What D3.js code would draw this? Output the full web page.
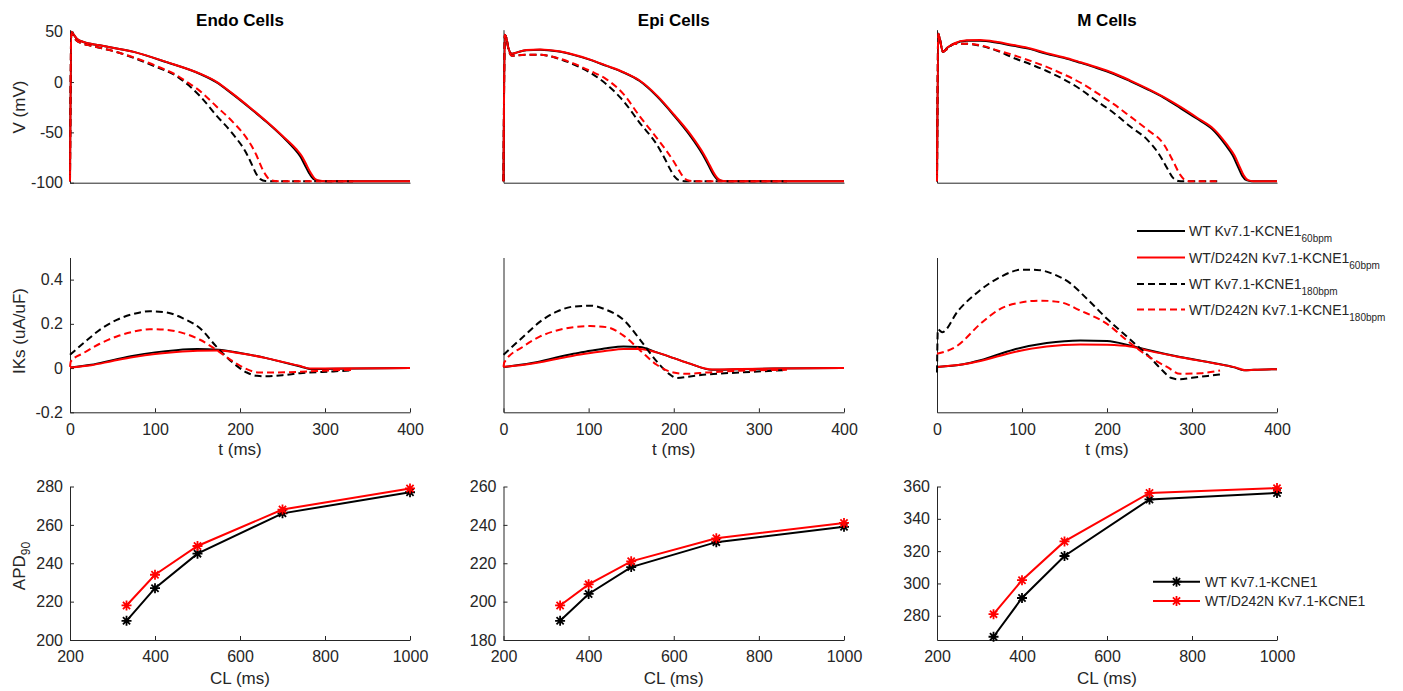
<!DOCTYPE html>
<html><head><meta charset="utf-8">
<script src="https://cdn.jsdelivr.net/npm/d3@7"></script>
<style>
body{margin:0;background:#fff;}
svg{display:block;font-family:"Liberation Sans",Arial,Helvetica,sans-serif;}
</style></head><body>
<svg id="chart" width="1403" height="691"></svg>
<script>
// ---------------- DATA ----------------
const panelTitles = ["Endo Cells", "Epi Cells", "M Cells"];
const vTicks = [-100, -50, 0, 50];
const iTicks = [-0.2, 0, 0.2, 0.4];
const tTicks = [0, 100, 200, 300, 400];
const clTicks = [200, 400, 600, 800, 1000];
const apdTicksEndo = [200, 220, 240, 260, 280];
const apdTicksEpi = [180, 200, 220, 240, 260];
const apdTicksM = [280, 300, 320, 340, 360];
const apdDomainEndo = [200, 280];
const apdDomainEpi = [180, 260];
const apdDomainM = [265, 360];
const vDomain = [-100, 52];
const iDomain = [-0.2, 0.5];
const tDomain = [0, 400];
const clDomain = [200, 1000];

const seriesLabels = ["WT Kv7.1-KCNE1", "WT/D242N Kv7.1-KCNE1", "WT Kv7.1-KCNE1", "WT/D242N Kv7.1-KCNE1"];
const seriesRates = ["60bpm", "60bpm", "180bpm", "180bpm"];
const apdLabels = ["WT Kv7.1-KCNE1", "WT/D242N Kv7.1-KCNE1"];

// Action potentials [t (ms), V (mV)]
const vEndoWT60 = [[0,-98.5],[1.5,50],[4,47.5],[8,43],[15,40],[35,36.5],[75,30],[114,19.6],[153,8],[172,0],[192,-12.5],[212,-26],[231,-39.5],[251,-55],[264,-66.5],[271,-74],[276,-82],[281,-90],[286,-96],[292,-98],[305,-98.5],[400,-98.5]];
const vEndoMut60 = [[0,-98.5],[1.5,50],[4,47.5],[8,43],[15,40],[35,36.5],[75,30],[114,19.8],[153,8.3],[172,0.5],[192,-12],[212,-25.5],[231,-39],[252,-55],[266,-66.5],[273,-74],[278,-82],[283,-90],[288,-96],[294,-98],[307,-98.5],[400,-98.5]];
const vEndoWT180 = [[0,-98.5],[1.5,48],[4,45],[8,41],[14,38.5],[25,36],[50,31],[75,24],[100,15.5],[125,6],[140,-3.5],[153,-14],[172,-33],[192,-52],[207,-70],[214,-82],[219,-91],[224,-96.5],[230,-98.3],[240,-98.5],[333,-98.5]];
const vEndoMut180 = [[0,-98.5],[1.5,48],[4,45],[8,41],[14,38.5],[25,36],[50,31],[75,24.5],[100,16.5],[125,7],[137,0.5],[153,-9],[172,-24],[192,-40],[208,-56],[219,-72],[225,-84],[230,-92],[235,-97],[241,-98.3],[250,-98.5],[333,-98.5]];

const vEpiWT60 = [[0,-98.5],[1.5,47],[3,45],[6,33],[10,28],[16,29.5],[27,31.5],[43,32],[63,30.5],[82,27],[102,22],[121,16],[141,9.5],[160,1],[180,-14],[200,-33],[219,-53],[234,-72],[241,-83],[246,-91],[251,-96.5],[257,-98.3],[265,-98.5],[400,-98.5]];
const vEpiMut60 = [[0,-98.5],[1.5,47],[3,45],[6,33],[10,28],[16,29.5],[27,31.8],[43,32.3],[63,30.8],[82,27.3],[102,22.3],[121,16.3],[141,9.8],[160,1.5],[181,-14],[201,-33],[220.5,-53],[235.5,-72],[242.5,-83],[247.5,-91],[252.5,-96.5],[258.5,-98.3],[267,-98.5],[400,-98.5]];
const vEpiWT180 = [[0,-98.5],[1.5,47],[3,45],[6,32],[10,26],[16,26.5],[27,27],[43,27],[63,23.7],[82,17.7],[102,9.3],[121,-2.3],[141,-19],[160,-40.5],[180,-62],[190,-77],[196,-87],[201,-94],[206,-97.5],[213,-98.5],[333,-98.5]];
const vEpiMut180 = [[0,-98.5],[1.5,47],[3,45],[6,32],[10,26],[16,26.5],[27,27],[43,27],[63,24],[82,18.5],[102,11],[121,2.7],[141,-12],[160,-34],[180,-55.5],[200,-79],[206,-87.5],[211,-94],[216,-97.5],[223,-98.5],[333,-98.5]];

const vMWT60 = [[0,-98.5],[1.5,48],[3,44],[7,30],[12,34],[20,38],[35,41],[51,41],[71,39],[90,36],[110,32.7],[129,28],[149,24],[169,19],[188,14],[208,8],[227,1],[247,-7],[267,-15.7],[286,-25.7],[305,-36],[324,-47],[339,-62],[348,-73],[354,-84],[359,-93],[364,-97.5],[370,-98.5],[400,-98.5]];
const vMMut60 = [[0,-98.5],[1.5,48],[3,44],[7,30],[12,34],[20,38.5],[35,41.5],[51,41.7],[71,39.7],[90,36.7],[110,33.4],[129,28.7],[149,24.7],[169,19.7],[188,14.7],[208,8.7],[227,1.7],[247,-6.3],[267,-15],[287,-25],[307,-36],[326,-47],[341,-62],[350,-73],[356,-84],[361,-93],[366,-97.5],[372,-98.5],[400,-98.5]];
const vMWT180 = [[0,-98.5],[1.5,48],[3,44],[7,30],[12,33],[20,37.7],[35,38],[51,36],[71,31],[90,24],[110,17.7],[129,11],[149,2.7],[169,-7.3],[188,-19],[208,-30.7],[227,-44],[247,-57],[259,-69],[265,-77],[271,-86],[278,-95.5],[284,-98.2],[290,-98.5],[333,-98.5]];
const vMMut180 = [[0,-98.5],[1.5,48],[3,44],[7,30],[12,33],[20,37.7],[35,38],[51,36.5],[71,31.5],[90,26.7],[110,21],[129,15],[149,7.7],[169,-0.7],[188,-10.7],[208,-22],[227,-34],[247,-47],[267,-62],[278,-79],[286,-92],[292,-97.5],[298,-98.5],[333,-98.5]];

// IKs currents [t (ms), I (uA/uF)]
const iEndoWT60 = [[0,0.003],[25,0.015],[50,0.036],[75,0.056],[100,0.071],[125,0.081],[150,0.086],[175,0.083],[200,0.068],[231,0.045],[250,0.027],[271,0.0075],[284,-0.005],[300,-0.004],[340,-0.002],[400,0]];
const iEndoMut60 = [[0,0.003],[25,0.013],[50,0.032],[75,0.05],[100,0.064],[125,0.073],[150,0.078],[175,0.079],[200,0.067],[231,0.045],[250,0.028],[271,0.009],[282,-0.002],[300,-0.002],[400,0]];
const iEndoWT180 = [[0,0.06],[16,0.113],[35,0.173],[55,0.218],[75,0.245],[94,0.257],[114,0.251],[133,0.225],[153,0.18],[172,0.098],[192,0.023],[208,-0.02],[220,-0.035],[231,-0.037],[250,-0.032],[271,-0.023],[310,-0.015],[333,-0.01]];
const iEndoMut180 = [[0,0.005],[1,0.03],[16,0.068],[35,0.11],[55,0.143],[75,0.165],[94,0.176],[114,0.173],[133,0.158],[153,0.128],[172,0.083],[192,0.03],[208,-0.005],[223,-0.02],[239,-0.02],[271,-0.017],[310,-0.01],[333,-0.008]];

const iEpiWT60 = [[0,0.005],[20,0.015],[43,0.03],[62,0.048],[82,0.065],[102,0.078],[121,0.09],[141,0.098],[160,0.095],[180,0.071],[200,0.045],[219,0.02],[245,-0.008],[278,-0.005],[317,-0.002],[400,0]];
const iEpiMut60 = [[0,0.005],[20,0.013],[43,0.026],[62,0.041],[82,0.056],[102,0.068],[121,0.078],[141,0.086],[160,0.086],[180,0.071],[200,0.045],[219,0.02],[245,-0.006],[278,-0.004],[317,-0.002],[400,0]];
const iEpiWT180 = [[0,0.06],[23.5,0.143],[43,0.21],[62.6,0.255],[82,0.278],[102,0.282],[121,0.263],[141,0.218],[160.5,0.128],[180,0.03],[195.7,-0.03],[203.5,-0.045],[219,-0.038],[239,-0.029],[278,-0.02],[317,-0.012],[333,-0.009]];
const iEpiMut180 = [[0,0.005],[1,0.026],[23.5,0.098],[43,0.143],[62.6,0.17],[82,0.185],[102,0.19],[121,0.185],[141,0.147],[160.5,0.08],[180,0.015],[199.6,-0.02],[215,-0.026],[239,-0.02],[278,-0.012],[333,-0.008]];

const iMWT60 = [[0,0.005],[31,0.017],[51,0.035],[90,0.083],[129,0.113],[168.6,0.125],[200,0.122],[227,0.102],[247,0.083],[286,0.05],[325.5,0.023],[350,0.003],[361,-0.01],[372.5,-0.008],[400,-0.005]];
const iMMut60 = [[0,0.005],[31,0.017],[51,0.032],[90,0.072],[129,0.098],[168.6,0.107],[200,0.105],[227,0.098],[247,0.08],[286,0.049],[325.5,0.022],[352,0.002],[363,-0.01],[374,-0.008],[400,-0.005]];
const iMWT180 = [[0,-0.02],[1,0.175],[6,0.162],[25,0.26],[50,0.35],[75,0.413],[100,0.445],[117.6,0.444],[137,0.425],[157,0.383],[176.5,0.313],[200,0.223],[225,0.137],[250,0.05],[265,-0.01],[275,-0.044],[285,-0.051],[300,-0.044],[333,-0.029]];
const iMMut180 = [[0,0.065],[10,0.075],[23.5,0.1],[51,0.2],[74.5,0.268],[98,0.296],[121.6,0.305],[145,0.298],[168.6,0.26],[200,0.2],[223.5,0.125],[247,0.057],[270.6,0.005],[286,-0.026],[310,-0.023],[333,-0.011]];

// APD90 vs cycle length
const cycleLengths = [333, 400, 500, 700, 1000];
const apdEndoWT = [210, 227, 245, 266, 277];
const apdEndoMut = [218, 234, 249, 268, 279];
const apdEpiWT = [190, 204, 218, 231, 239];
const apdEpiMut = [198, 209, 221, 233, 241];
const apdMWT = [267, 291, 317, 352, 356];
const apdMMut = [281, 302, 326, 356, 359];

// ---------------- LAYOUT / STYLE ----------------
const colX = [[70, 410], [503.5, 844], [937, 1277]];
const rowV = [182.7, 29.7];
const rowI = [412.3, 257.5];
const rowA = [640, 486.5];
const styles = [
  {color: "#000000", dash: null},
  {color: "#ff0000", dash: null},
  {color: "#000000", dash: "7,4"},
  {color: "#ff0000", dash: "7,4"}
];
const axisColor = "#262626";
const tickFont = 16, labelFont = 17;
const plainFmt = d => String(d);

const svg = d3.select("#chart");

function styleAxis(g) {
  g.attr("font-size", tickFont).attr("font-family", null).attr("color", axisColor);
  g.select(".domain").attr("stroke-width", 1);
}

function drawAxes(x, y, opts) {
  const g = svg.append("g");
  const xa = d3.axisBottom(x).tickSizeOuter(0).tickSizeInner(-4).tickPadding(11)
    .tickValues(opts.xTicks || []).tickFormat(plainFmt);
  g.append("g").attr("transform", `translate(0,${y.range()[0]})`).call(xa).call(styleAxis);
  const ya = d3.axisLeft(y).tickSizeOuter(0).tickSizeInner(-4).tickPadding(7)
    .tickValues(opts.yTicks || []).tickFormat(plainFmt);
  g.append("g").attr("transform", `translate(${x.range()[0]},0)`).call(ya).call(styleAxis);
}

function drawCurves(x, y, list) {
  const line = d3.line().x(d => x(d[0])).y(d => y(d[1])).curve(d3.curveMonotoneX);
  list.forEach((s, i) => {
    svg.append("path").datum(s).attr("d", line)
      .attr("fill", "none").attr("stroke", styles[i].color)
      .attr("stroke-width", 2).attr("stroke-dasharray", styles[i].dash)
      .attr("stroke-linejoin", "round");
  });
}

function asterisk(g, cx, cy, color) {
  const r = 5, d = 3.6;
  const p = `M${cx - r},${cy}H${cx + r}M${cx},${cy - r}V${cy + r}` +
    `M${cx - d},${cy - d}L${cx + d},${cy + d}M${cx - d},${cy + d}L${cx + d},${cy - d}`;
  g.append("path").attr("d", p).attr("stroke", color).attr("stroke-width", 1.8).attr("fill", "none");
}

const vSets = [
  [vEndoWT60, vEndoMut60, vEndoWT180, vEndoMut180],
  [vEpiWT60, vEpiMut60, vEpiWT180, vEpiMut180],
  [vMWT60, vMMut60, vMWT180, vMMut180]
];
const iSets = [
  [iEndoWT60, iEndoMut60, iEndoWT180, iEndoMut180],
  [iEpiWT60, iEpiMut60, iEpiWT180, iEpiMut180],
  [iMWT60, iMMut60, iMWT180, iMMut180]
];
const apdSets = [[apdEndoWT, apdEndoMut], [apdEpiWT, apdEpiMut], [apdMWT, apdMMut]];
const apdDomains = [apdDomainEndo, apdDomainEpi, apdDomainM];
const apdTicks = [apdTicksEndo, apdTicksEpi, apdTicksM];

for (let c = 0; c < 3; c++) {
  // Row 1: membrane potential
  const xT = d3.scaleLinear().domain(tDomain).range(colX[c]);
  const yV = d3.scaleLinear().domain(vDomain).range(rowV);
  drawAxes(xT, yV, {xTicks: [], yTicks: c === 0 ? vTicks : []});
  drawCurves(xT, yV, vSets[c]);
  svg.append("text").attr("x", (colX[c][0] + colX[c][1]) / 2).attr("y", 26)
    .attr("text-anchor", "middle").attr("font-weight", "bold").attr("font-size", 17)
    .attr("fill", "#000").text(panelTitles[c]);

  // Row 2: IKs
  const yI = d3.scaleLinear().domain(iDomain).range(rowI);
  drawAxes(xT, yI, {xTicks: tTicks, yTicks: c === 0 ? iTicks : []});
  drawCurves(xT, yI, iSets[c]);
  svg.append("text").attr("x", (colX[c][0] + colX[c][1]) / 2).attr("y", 455)
    .attr("text-anchor", "middle").attr("font-size", labelFont).attr("fill", axisColor).text("t (ms)");

  // Row 3: APD90
  const xC = d3.scaleLinear().domain(clDomain).range(colX[c]);
  const yA = d3.scaleLinear().domain(apdDomains[c]).range(rowA);
  drawAxes(xC, yA, {xTicks: clTicks, yTicks: apdTicks[c]});
  const aLine = d3.line().x((d, i) => xC(cycleLengths[i])).y(d => yA(d));
  apdSets[c].forEach((vals, k) => {
    const col = styles[k].color;
    svg.append("path").datum(vals).attr("d", aLine).attr("fill", "none")
      .attr("stroke", col).attr("stroke-width", 2);
    const mg = svg.append("g");
    vals.forEach((v, i) => asterisk(mg, xC(cycleLengths[i]), yA(v), col));
  });
  svg.append("text").attr("x", (colX[c][0] + colX[c][1]) / 2).attr("y", 684)
    .attr("text-anchor", "middle").attr("font-size", labelFont).attr("fill", axisColor).text("CL (ms)");
}

// Y axis labels
function yLabel(cy, build) {
  const t = svg.append("text").attr("transform", `translate(25,${cy}) rotate(-90)`)
    .attr("text-anchor", "middle").attr("font-size", labelFont).attr("fill", axisColor);
  build(t);
}
yLabel(107, t => t.text("V (mV)"));
yLabel(331, t => t.text("IKs (uA/uF)"));
yLabel(566, t => { t.append("tspan").text("APD"); t.append("tspan").attr("font-size", 12).attr("dy", 5).text("90"); });

// Legend (IKs / V)
const legY = [231, 257.5, 284, 309.5];
seriesLabels.forEach((lab, i) => {
  const g = svg.append("g");
  g.append("line").attr("x1", 1137).attr("x2", 1185).attr("y1", legY[i]).attr("y2", legY[i])
    .attr("stroke", styles[i].color).attr("stroke-width", 2).attr("stroke-dasharray", styles[i].dash);
  const t = g.append("text").attr("x", 1189).attr("y", legY[i] + 5).attr("font-size", 14).attr("fill", axisColor);
  t.append("tspan").text(lab);
  t.append("tspan").attr("font-size", 10).attr("dy", 6).text(seriesRates[i]);
});

// Legend (APD)
const legAY = [581.7, 601];
apdLabels.forEach((lab, i) => {
  const g = svg.append("g");
  g.append("line").attr("x1", 1153).attr("x2", 1200).attr("y1", legAY[i]).attr("y2", legAY[i])
    .attr("stroke", styles[i].color).attr("stroke-width", 2);
  asterisk(g, 1176.5, legAY[i], styles[i].color);
  g.append("text").attr("x", 1205).attr("y", legAY[i] + 5).attr("font-size", 14).attr("fill", axisColor).text(lab);
});
</script>
</body></html>
